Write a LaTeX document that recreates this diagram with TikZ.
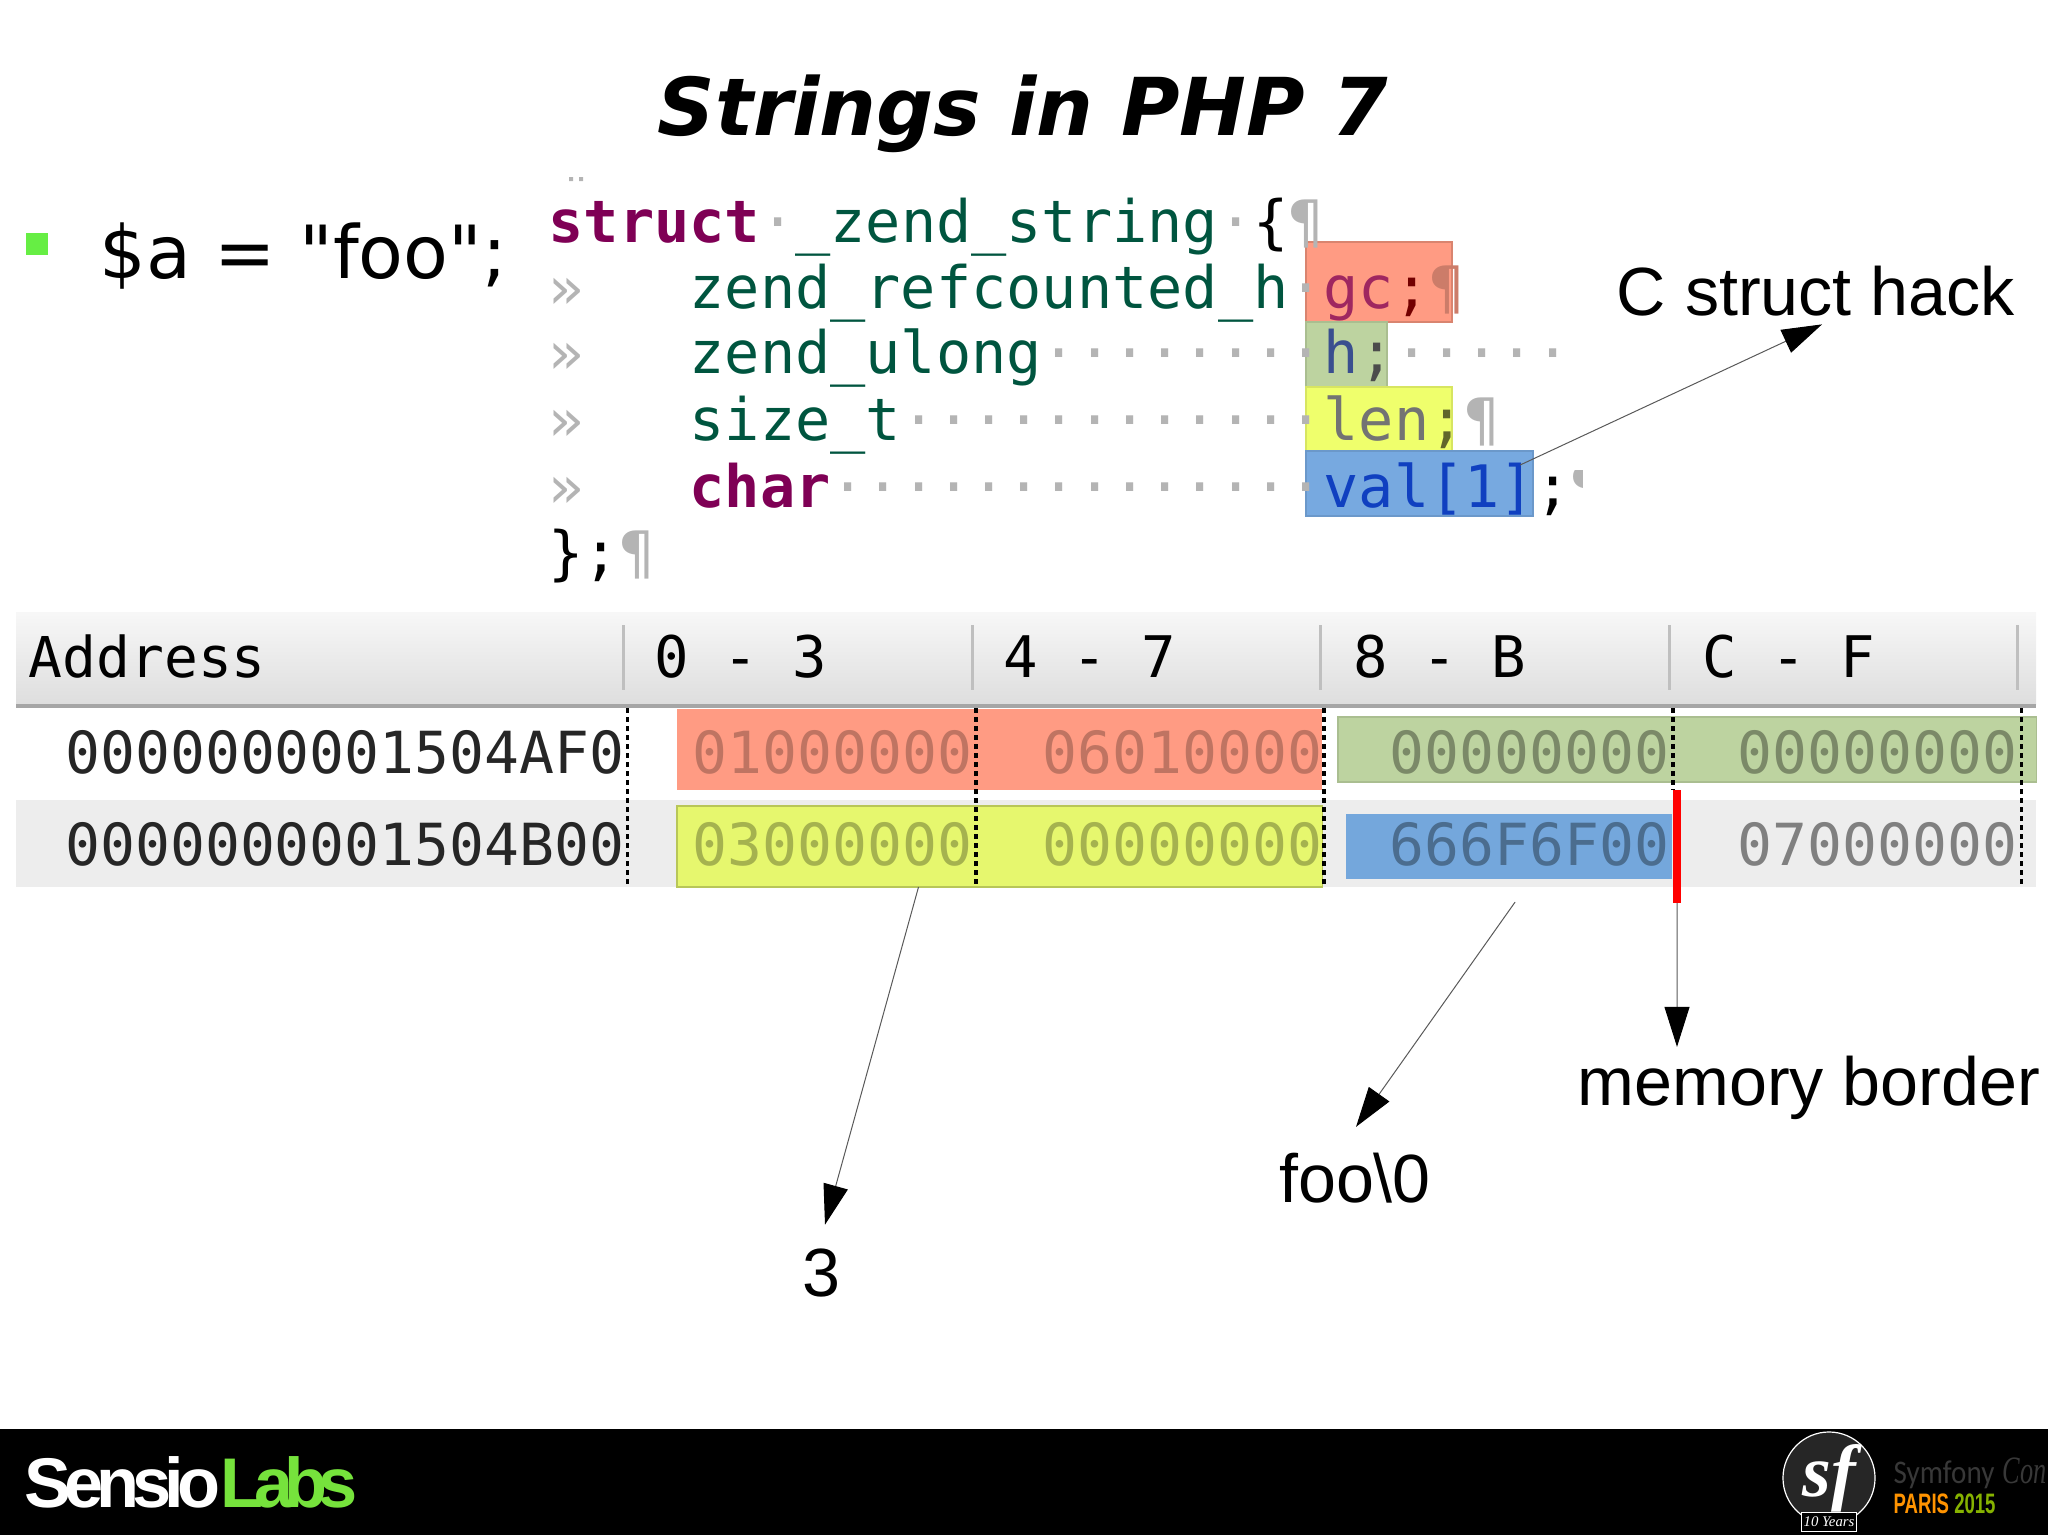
\documentclass[tikz,border=0pt]{standalone}
\usepackage{fontspec}
\setmainfont{Liberation Sans}
\newfontfamily\djvfont{DejaVu Sans}
\newfontfamily\codefont{DejaVu Sans Mono}
\newfontfamily\serifont{Liberation Serif}
\newfontfamily\sensiofont{Liberation Sans}[LetterSpace=-10]
\newfontfamily\parisfont{Liberation Sans}[FakeStretch=0.66]
\newfontfamily\symfont{Carlito}[FakeStretch=0.88]
\newfontfamily\confont{Liberation Serif}[FakeStretch=0.68]
\usetikzlibrary{calc}
\usetikzlibrary{positioning}
\usetikzlibrary{arrows.meta}
\definecolor{bulletgreen}{HTML}{66EE44}
\definecolor{keyword}{HTML}{7F0055}
\definecolor{ident}{HTML}{00553F}
\definecolor{marks}{HTML}{B4B4B4}
\definecolor{salmon}{HTML}{FF9B83}
\definecolor{leaf}{HTML}{BDD3A0}
\definecolor{lemon}{HTML}{EFFF6C}
\definecolor{sky}{HTML}{77A9E0}
\definecolor{cellyellow}{HTML}{E6F76E}
\definecolor{cellblue}{HTML}{74A7DC}
\definecolor{labsgreen}{HTML}{76E33C}
\definecolor{hnavy}{HTML}{3A4F8F}
\definecolor{valblue}{HTML}{1040C0}
\newcommand{\gy}[1]{\textcolor{marks}{#1}}
\newcommand{\kw}[1]{\textcolor{keyword}{\bfseries #1}}
\newcommand{\id}[1]{\textcolor{ident}{#1}}
\tikzstyle{code} = [anchor=base west, inner sep=0pt,
    font=\codefont\fontsize{16.64}{20}\selectfont]
\tikzstyle{hl} = [anchor=north west, inner sep=0pt, outer sep=0pt, minimum height=0.8cm]
\tikzstyle{head} = [inner sep=0pt, text height=0.42cm, text depth=0pt,
    font=\codefont\fontsize{16.3}{20}\selectfont]
\tikzstyle{addr} = [anchor=base east, inner sep=0pt,
    font=\codefont\fontsize{16.5}{20}\selectfont]
\tikzstyle{cell} = [anchor=north west, inner sep=0pt, outer sep=0pt]
\tikzstyle{callout} = [anchor=base, inner sep=0pt, font=\fontsize{19.4}{23}\selectfont]
\tikzstyle{sepline} = [draw=black, line width=0.035cm, dash pattern=on 0.045cm off 0.045cm]
\tikzstyle{headsep} = [draw=black!25, line width=0.03cm]
\tikzstyle{pointer} = [draw=black!65, line width=0.01cm,
    -{Triangle[length=0.4cm, width=0.25cm, color=black]}]

\begin{document}
\begin{tikzpicture}[x=0.01cm, y=-0.01cm]
    \useasboundingbox (0,0) rectangle (2048,1536);
    % Title and bullet
    \node[anchor=base, inner sep=0pt, font=\djvfont\bfseries\itshape\fontsize{22.7}{27}\selectfont] (title) at (1023,135) {Strings in PHP 7};
    \node[fill=bulletgreen, inner sep=0pt, minimum size=0.22cm] (bullet) at (37,244) {};
    \node[anchor=base west, inner sep=0pt, font=\djvfont\fontsize{20.85}{25}\selectfont] (assign) at (99,278) {\$a = "foo";};
    % Highlight boxes behind the struct
    \node[hl, fill=salmon, draw=salmon!85!black, minimum width=1.46cm] (gcbox) at (1306,242) {};
    \node[hl, fill=leaf, draw=leaf!90!black, minimum width=0.81cm, minimum height=0.65cm] (hbox) at (1306,322) {};
    \node[hl, fill=lemon, draw=lemon!90!black, minimum width=1.46cm, minimum height=0.64cm] (lenbox) at (1306,387) {};
    \node[hl, fill=sky, draw=sky!90!black, minimum width=2.27cm, minimum height=0.65cm] (valbox) at (1306,451) {};
    % Struct source
    \fill[marks] (569,177) rectangle (573,181) (579,177) rectangle (583,181);
    \node[code] (codea) at (548,242) {\kw{struct}\gy{·}\id{\_zend\_string}\gy{·}\textcolor{black}{\{}\gy{¶}};
    \node[code] (codeb) at (548,308) {\gy{»}~~~\id{zend\_refcounted\_h}\gy{·}\textcolor{keyword!75!salmon}{gc}\textcolor{red!45!black}{;}\textcolor{salmon!80!black}{¶}};
    \node[code] (codec) at (548,373) {\gy{»}~~~\id{zend\_ulong}\gy{········}\textcolor{hnavy}{h}\textcolor{black!70}{;}\gy{·····}};
    \node[code] (coded) at (548,440) {\gy{»}~~~\id{size\_t}\gy{············}\textcolor{black!55}{len}\textcolor{black!60!lemon}{;}\gy{¶}};
    \node[code] (codee) at (548,507) {\gy{»}~~~\kw{char}\gy{··············}\textcolor{valblue}{val[1]}\textcolor{black}{;}};
    \node[code] (codef) at (548,573) {\}\kern0pt;\gy{¶}};
    \begin{scope}
        \clip (1562,470) rectangle (1582,500);
        \node[code] (codeg) at (1570,507) {\gy{¶}};
    \end{scope}
    % Table header
    \shade[top color=white!97!black, bottom color=black!13] (16,612) rectangle (2036,704);
    \fill[black!35] (16,704) rectangle (2036,708);
    \path[headsep] (623,625) -- (623,690);
    \path[headsep] (972,625) -- (972,690);
    \path[headsep] (1320,625) -- (1320,690);
    \path[headsep] (1669,625) -- (1669,690);
    \path[headsep] (2017,625) -- (2017,690);
    \node[head, anchor=base west, text height=0pt, font=\codefont\fontsize{16}{20}\selectfont] (headaddr) at (28,677) {Address};
    \node[head] (headzero) at (741,656) {0 - 3};
    \node[head, right of=headzero, node distance=3.49cm] (headfour) {4 - 7};
    \node[head, right of=headfour, node distance=3.49cm] (headeight) {8 - B};
    \node[head, right of=headeight, node distance=3.49cm] (headc) {C - F};
    % Table rows
    \fill[black!7] (16,800) rectangle (2036,887);
    \node[cell, fill=salmon, minimum width=6.45cm, minimum height=0.81cm] (cella) at (677,709) {};
    \node[cell, fill=cellyellow, draw=cellyellow!80!black, minimum width=6.45cm, minimum height=0.81cm] (cellb) at (677,806) {};
    \node[cell, fill=leaf, draw=leaf!90!black, minimum width=6.98cm, minimum height=0.65cm] (cellc) at (1338,717) {};
    \node[cell, fill=cellblue, minimum width=3.26cm, minimum height=0.65cm] (celld) at (1346,814) {};
    \path[sepline] (627.5,708) -- (627.5,887);
    \path[sepline] (976,708) -- (976,887);
    \path[sepline] (1324,708) -- (1324,887);
    \path[sepline] (1673,708) -- (1673,790);
    \path[sepline] (2021.5,708) -- (2021.5,887);
    \node[cell, fill=red, minimum width=0.08cm, minimum height=1.13cm] (bar) at (1673,790) {};
    \node[addr, text=black!85] (addra) at (625,773) {0000000001504AF0};
    \node[addr, text=black!85] (addrb) at (625,865) {0000000001504B00};
    \node[addr, text=salmon!75!black] (vala) at (973,773) {01000000};
    \node[addr, text=salmon!75!black] (valb) at (1323,773) {06010000};
    \node[addr, text=leaf!65!black] (valc) at (1670,773) {00000000};
    \node[addr, text=leaf!65!black] (vald) at (2018,773) {00000000};
    \node[addr, text=cellyellow!72!black] (vale) at (973,865) {03000000};
    \node[addr, text=cellyellow!72!black] (valf) at (1323,865) {00000000};
    \node[addr, text=cellblue!65!black] (valg) at (1670,865) {666F6F00};
    \node[addr, text=black!50] (valh) at (2018,865) {07000000};
    % Callouts
    \node[callout] (hack) at (1816,315) {C struct hack};
    \node[callout] (three) at (821,1296) {3};
    \node[callout] (foo) at (1355,1202) {foo\textbackslash 0};
    \node[callout] (border) at (1809,1105) {memory border};
    \path [pointer] ($(valbox.north east)+(-13,14)$) -- ($(hack.south)+(6,8)$);
    \path [pointer] ($(cellb.south west)+(241.5,0)$) -- ($(three.north)+(4,-23)$);
    \path [pointer] ($(celld.south)+(6,23)$) -- ($(foo.north)+(1,-25)$);
    \path [pointer] (bar.south) -- ($(border.north)+(-132,-8)$);
    % Footer band
    \fill[black] (0,1429) rectangle (2048,1535);
    \node[anchor=base west, inner sep=0pt, font=\sensiofont\bfseries\fontsize{20}{24}\selectfont] (sensio) at (24,1507) {\textcolor{white}{Sensio}\addfontfeature{LetterSpace=-12.5}\textcolor{labsgreen}{Labs}};
    \node[circle, fill=black!85, draw=white, line width=0.012cm, minimum size=0.92cm, inner sep=0pt, text=white, font=\serifont\bfseries\itshape\fontsize{21}{25}\selectfont] (sflogo) at (1829,1478) {sf};
    \node[fill=black, draw=white, line width=0.012cm, minimum width=0.55cm, minimum height=0.19cm, inner sep=0pt, text=white, font=\serifont\itshape\fontsize{4.2}{5}\selectfont] (years) at (1829,1522) {10 Years};
    \node[anchor=base west, inner sep=0pt, text=black!78, font=\symfont\fontsize{9.4}{11}\selectfont] (symfony) at (1893,1483) {Symfony};
    \node[anchor=base west, inner sep=0pt, text=black!78, font=\confont\itshape\fontsize{11}{13}\selectfont] (con) at (2002,1483) {Con};
    \node[anchor=base west, inner sep=0pt, font=\parisfont\bfseries\fontsize{8}{10}\selectfont] (paris) at (1893,1513) {\textcolor{orange!85!yellow}{PARIS} \textcolor{lime!70!black}{2015}};
\end{tikzpicture}
\end{document}
